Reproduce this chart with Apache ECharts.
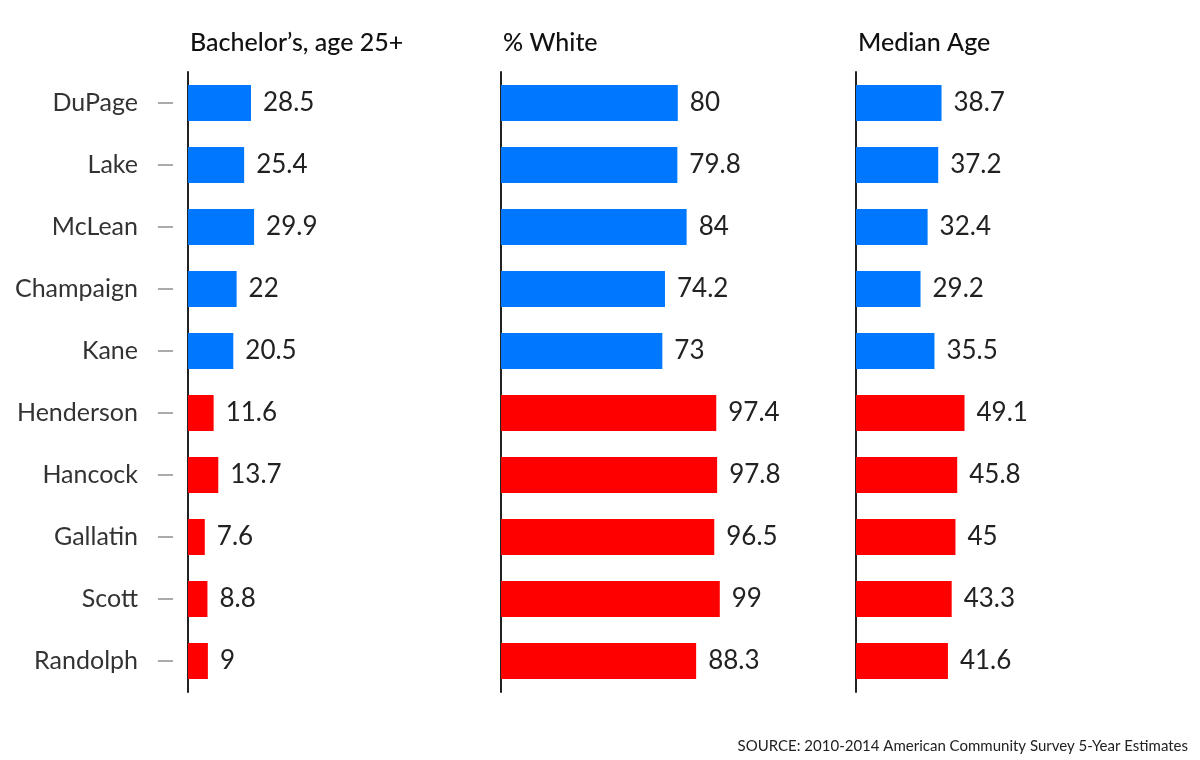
<!DOCTYPE html>
<html>
<head>
<meta charset="utf-8">
<script src="https://cdn.jsdelivr.net/npm/echarts@6/dist/echarts.min.js"></script>
<style>html,body{margin:0;padding:0;background:#fff;}#c{width:1200px;height:760px;}</style>
</head>
<body>
<div id="c"></div>
<script>
const counties = ['DuPage','Lake','McLean','Champaign','Kane','Henderson','Hancock','Gallatin','Scott','Randolph'];
const bachelors = [28.5, 25.4, 29.9, 22, 20.5, 11.6, 13.7, 7.6, 8.8, 9];
const pctWhite = [80, 79.8, 84, 74.2, 73, 97.4, 97.8, 96.5, 99, 88.3];
const medianAge = [38.7, 37.2, 32.4, 29.2, 35.5, 49.1, 45.8, 45, 43.3, 41.6];
const panelTitles = ['Bachelor\u2019s, age 25+', '% White', 'Median Age'];
const sourceText = 'SOURCE: 2010-2014 American Community Survey 5-Year Estimates';

const FONT = 'Lato';
const lefts = [188, 501, 856];
const values = [bachelors, pctWhite, medianAge];

const grids = lefts.map(l => ({left: l, top: 72, width: 221, height: 620}));
const xAxes = lefts.map((l, i) => ({gridIndex: i, type: 'value', min: 0, max: 100, show: false}));
const yAxes = [];
lefts.forEach((l, i) => {
  yAxes.push({
    gridIndex: i, type: 'category', data: counties, inverse: true, position: 'left',
    axisLine: {show: true, lineStyle: {color: '#222', width: 2}},
    axisTick: {show: false}, axisLabel: {show: false}, splitLine: {show: false}
  });
});
// label axis with detached ticks for first panel
yAxes.push({
  gridIndex: 0, type: 'category', data: counties, inverse: true, position: 'left', offset: 15,
  axisLine: {show: false},
  axisTick: {show: true, alignWithLabel: true, length: 15, lineStyle: {color: '#aaa', width: 2}},
  axisLabel: {show: true, margin: 35, fontFamily: FONT, fontSize: 25, color: '#333'},
  splitLine: {show: false}
});

const series = values.map((v, i) => ({
  type: 'bar', xAxisIndex: i, yAxisIndex: i, data: v, barWidth: 36,
  itemStyle: {color: p => p.dataIndex < 5 ? '#0077ff' : '#ff0000'},
  label: {show: true, position: 'right', distance: 12, fontFamily: FONT, fontSize: 26, color: '#222'},
  animation: false
}));

const titles = panelTitles.map((t, i) => ({
  text: t, left: lefts[i] + 2, top: 30, padding: 0,
  textStyle: {fontFamily: FONT, fontSize: 25, fontWeight: 500, color: '#111'}
}));
titles.push({text: sourceText, right: 12, top: 739, padding: 0, textStyle: {fontFamily: FONT, fontSize: 15, fontWeight: 'normal', color: '#222'}});

const chart = echarts.init(document.getElementById('c'));
chart.setOption({
  animation: false,
  title: titles,
  grid: grids, xAxis: xAxes, yAxis: yAxes, series: series
});
</script>
</body>
</html>
